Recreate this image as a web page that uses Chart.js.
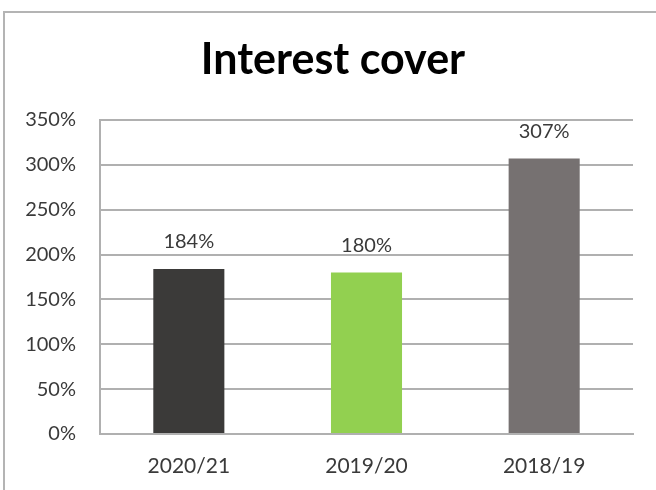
<!DOCTYPE html>
<html>
<head>
<meta charset="utf-8">
<script src="https://cdn.jsdelivr.net/npm/chart.js@4"></script>
<style>
  body { margin: 0; overflow: hidden; background: #fff; }
  #wrap { position: absolute; left: 3px; top: 11px; width: 660px; height: 480px; border: 2px solid #b4b4b4; }
</style>
</head>
<body>
<div id="wrap"><canvas id="myChart"></canvas></div>
<script>
var chartTitle = 'Interest cover';
var labels = ['2020/21', '2019/20', '2018/19'];
var values = [184, 180, 307];
var barColors = ['#3b3a39', '#92d050', '#767171'];
var yTicks = [0, 50, 100, 150, 200, 250, 300, 350];

// value labels above the bars + title centred a little left of the plot
var extras = {
    id: 'extras',
    afterDatasetsDraw: function(chart) {
        var ctx = chart.ctx;
        var meta = chart.getDatasetMeta(0);
        ctx.save();
        ctx.font = '20px Lato';
        ctx.fillStyle = '#3a3a3a';
        ctx.textAlign = 'center';
        ctx.textBaseline = 'middle';
        meta.data.forEach(function(bar, i) {
            ctx.fillText(values[i] + '%', bar.x, bar.y - 27);
        });
        ctx.font = 'bold 43px Lato';
        ctx.fillStyle = '#000';
        ctx.fillText(chartTitle, 328, 47);
        ctx.restore();
    }
};

var ctx = document.getElementById('myChart').getContext('2d');
var myChart = new Chart(ctx, {
    type: 'bar',
    data: {
        labels: labels,
        datasets: [{
            data: values,
            backgroundColor: barColors,
            barPercentage: 0.4,
            categoryPercentage: 1
        }]
    },
    options: {
        responsive: true,
        maintainAspectRatio: false,
        animation: false,
        layout: { padding: { left: 0, right: 32, top: 107, bottom: 0 } },
        plugins: {
            legend: { display: false },
            tooltip: { enabled: false },
            title: { display: false }
        },
        scales: {
            x: {
                afterFit: function(scale) { scale.height = 59; },
                grid: { display: false, drawTicks: false },
                border: { color: '#b0b0b0', width: 2 },
                ticks: { color: '#3a3a3a', font: { family: 'Lato', size: 21 }, padding: 20 }
            },
            y: {
                min: 0,
                max: 350,
                afterFit: function(scale) { scale.width = 95; },
                afterBuildTicks: function(scale) {
                    scale.ticks = yTicks.map(function(v) { return { value: v }; });
                },
                grid: { color: '#b0b0b0', lineWidth: 2, drawTicks: false },
                border: { color: '#b0b0b0', width: 2 },
                ticks: {
                    color: '#3a3a3a',
                    font: { family: 'Lato', size: 20 },
                    padding: 24,
                    callback: function(v) { return v + '%'; }
                }
            }
        }
    },
    plugins: [extras]
});
</script>
</body>
</html>
